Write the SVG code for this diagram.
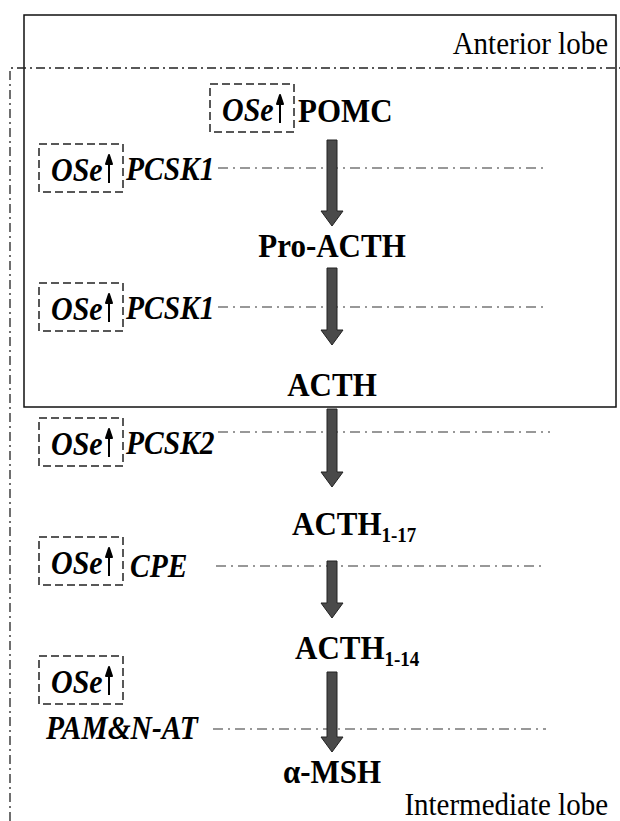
<svg xmlns="http://www.w3.org/2000/svg" width="620" height="821" viewBox="0 0 620 821">
<defs>
<style>
.node{font-family:"Liberation Serif","Times New Roman",serif;font-weight:bold;font-size:31px;fill:#000}
.enz{font-family:"Liberation Serif","Times New Roman",serif;font-weight:bold;font-style:italic;font-size:29.5px;fill:#000}
.ose{font-family:"Liberation Serif","Times New Roman",serif;font-weight:bold;font-style:italic;font-size:30px;fill:#000}
.lobe{font-family:"Liberation Serif","Times New Roman",serif;font-size:29px;fill:#000}
.dbox{fill:none;stroke:#222;stroke-width:1.5;stroke-dasharray:8 4}
.dd{fill:none;stroke:#777;stroke-width:1.3;stroke-dasharray:10 5 2 5}
.region{fill:none;stroke:#222;stroke-width:1.3;stroke-dasharray:9 4 2 4}
.arr{fill:#4a4a4a;stroke:#222;stroke-width:1}
.up{fill:#000;stroke:#000;stroke-width:2;stroke-linejoin:round}
</style>
</defs>
<rect width="620" height="821" fill="#fff"/>
<g id="anterior-lobe">
<rect x="24" y="15" width="592" height="392" fill="none" stroke="#111" stroke-width="1.5"/>
<text class="lobe" transform="translate(608 54) scale(1 1.1)" text-anchor="end">Anterior lobe</text>
</g>
<g id="intermediate-lobe">
<path class="region" d="M10,821 V68 H620"/>
<text class="lobe" transform="translate(608 815) scale(1 1.1)" text-anchor="end">Intermediate lobe</text>
</g>
<g id="connectors">
<line class="dd" x1="218" y1="168" x2="548" y2="168"/>
<line class="dd" x1="218" y1="307" x2="548" y2="307"/>
<line class="dd" x1="218" y1="432" x2="550" y2="432"/>
<line class="dd" x1="216" y1="566" x2="546" y2="566"/>
<line class="dd" x1="213" y1="729" x2="546" y2="729"/>
<path class="arr" d="M327,140 H337 V211 H343 L332,226 L321,211 H327 Z"/>
<path class="arr" d="M327,268 H337 V330 H343 L332,345 L321,330 H327 Z"/>
<path class="arr" d="M327,409 H337 V472 H343 L332,487 L321,472 H327 Z"/>
<path class="arr" d="M327,561 H337 V603 H343 L332,618 L321,603 H327 Z"/>
<path class="arr" d="M327,672 H337 V737 H343 L332,752 L321,737 H327 Z"/>
</g>
<g id="pomc">
<rect class="dbox" x="210" y="84" width="84" height="48"/>
<text class="ose" transform="translate(222 121) scale(1 1.15)">OSe</text>
<path class="up" d="M280,123 V102 M277,104 L280,95 L283,104 Z"/>
<text class="node" transform="translate(298 122) scale(1 1.12)">POMC</text>
</g>
<g id="pcsk1-a">
<rect class="dbox" x="39" y="144" width="84" height="48"/>
<text class="ose" transform="translate(51 181) scale(1 1.15)">OSe</text>
<path class="up" d="M109,183 V162 M106,164 L109,155 L112,164 Z"/>
<text class="enz" transform="translate(126 180) scale(1 1.15)">PCSK1</text>
</g>
<g id="pro-acth">
<text class="node" transform="translate(332 257) scale(1 1.12)" text-anchor="middle">Pro-ACTH</text>
</g>
<g id="pcsk1-b">
<rect class="dbox" x="39" y="283" width="84" height="48"/>
<text class="ose" transform="translate(51 320) scale(1 1.15)">OSe</text>
<path class="up" d="M109,322 V301 M106,303 L109,294 L112,303 Z"/>
<text class="enz" transform="translate(126 319) scale(1 1.15)">PCSK1</text>
</g>
<g id="acth">
<text class="node" transform="translate(332 396) scale(1 1.12)" text-anchor="middle">ACTH</text>
</g>
<g id="pcsk2">
<rect class="dbox" x="39" y="418" width="84" height="48"/>
<text class="ose" transform="translate(51 455) scale(1 1.15)">OSe</text>
<path class="up" d="M109,457 V436 M106,438 L109,429 L112,438 Z"/>
<text class="enz" transform="translate(126 454) scale(1 1.15)">PCSK2</text>
</g>
<g id="acth-1-17">
<text class="node" transform="translate(292 535) scale(1 1.12)">ACTH<tspan font-size="19" dy="6">1-17</tspan></text>
</g>
<g id="cpe">
<rect class="dbox" x="39" y="537" width="84" height="48"/>
<text class="ose" transform="translate(51 574) scale(1 1.15)">OSe</text>
<path class="up" d="M109,576 V555 M106,557 L109,548 L112,557 Z"/>
<text class="enz" transform="translate(130 577) scale(1 1.15)">CPE</text>
</g>
<g id="acth-1-14">
<text class="node" transform="translate(295 659) scale(1 1.12)">ACTH<tspan font-size="19" dy="6">1-14</tspan></text>
</g>
<g id="pam-nat">
<rect class="dbox" x="39" y="656" width="84" height="48"/>
<text class="ose" transform="translate(51 693) scale(1 1.15)">OSe</text>
<path class="up" d="M109,695 V674 M106,676 L109,667 L112,676 Z"/>
<text class="enz" transform="translate(46 739) scale(1 1.15)">PAM&amp;N-AT</text>
</g>
<g id="alpha-msh">
<text class="node" transform="translate(332 783) scale(1 1.12)" text-anchor="middle">α-MSH</text>
</g>
</svg>
